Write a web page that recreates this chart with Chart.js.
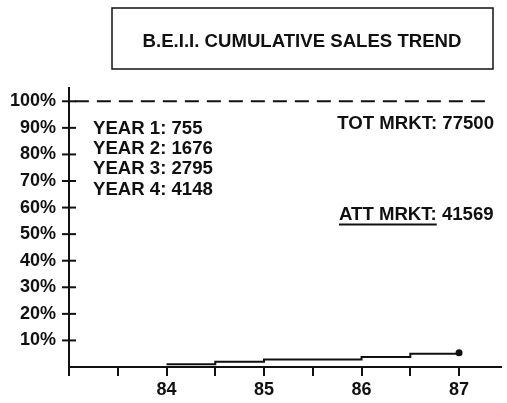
<!DOCTYPE html>
<html><head><meta charset="utf-8">
<script src="https://cdn.jsdelivr.net/npm/chart.js@4.4.1/dist/chart.umd.min.js"></script>
<style>html,body{margin:0;padding:0;background:#fff}#wrap{position:relative;width:507px;height:403px}</style>
</head><body><div id="wrap"><canvas id="c" width="507" height="403"></canvas></div>
<script>
const chartTitle = 'B.E.I.I. CUMULATIVE SALES TREND';
const periods = [84, 84.5, 85, 86, 86.5, 87];
const sharePct = [1.0, 2.0, 2.8, 3.8, 5.0, 5.4];
const refLineX = [83.06, 87.34];
const refLineY = [100, 100];
const yTickValues = [0, 10, 20, 30, 40, 50, 60, 70, 80, 90, 100];
const xTickValues = [83, 83.5, 84, 84.5, 85, 85.5, 86, 86.5, 87];
const xLabelYears = [84, 85, 86, 87];
const yearLabels = ['YEAR 1: 755', 'YEAR 2: 1676', 'YEAR 3: 2795', 'YEAR 4: 4148'];
const totLabel = 'TOT MRKT: 77500';
const attLabel = 'ATT MRKT:';
const attValue = '41569';

const FONT = '"Liberation Sans", Arial, Helvetica, sans-serif';
const INK = '#111';

const decor = {
  id: 'decor',
  afterDraw(chart) {
    const ctx = chart.ctx;
    const xs = chart.scales.x, ys = chart.scales.y;
    ctx.save();
    ctx.strokeStyle = INK; ctx.fillStyle = INK;
    // title box
    ctx.lineWidth = 1.5;
    ctx.strokeRect(112, 8, 381, 61);
    ctx.font = 'bold 18.6px ' + FONT;
    ctx.textAlign = 'center'; ctx.textBaseline = 'alphabetic';
    ctx.fillText(chartTitle, 302, 47);
    // y crosses
    ctx.lineWidth = 2;
    const x0 = xs.left;
    yTickValues.forEach(v => {
      if (v === 0) return;
      const y = ys.getPixelForValue(v);
      ctx.beginPath(); ctx.moveTo(x0 - 7, y); ctx.lineTo(x0 + 7, y); ctx.stroke();
    });
    // annotations
    ctx.font = 'bold 18.6px ' + FONT;
    ctx.textAlign = 'left';
    yearLabels.forEach((t, i) => ctx.fillText(t, 93, 133.5 + i * 20.4));
    ctx.textAlign = 'right';
    ctx.fillText(totLabel, 494, 128.5);
    ctx.textAlign = 'left';
    const attX = 339, attY = 219.5;
    ctx.fillText(attLabel, attX, attY);
    const w = ctx.measureText(attLabel).width;
    ctx.fillText(' ' + attValue, attX + w, attY);
    ctx.lineWidth = 1.8;
    ctx.beginPath(); ctx.moveTo(attX, attY + 5); ctx.lineTo(attX + w, attY + 5); ctx.stroke();
    ctx.restore();
  }
};

new Chart(document.getElementById('c'), {
  type: 'line',
  data: {
    datasets: [
      {
        data: periods.map((p, i) => ({ x: p, y: sharePct[i] })),
        borderColor: INK, borderWidth: 2, stepped: true,
        pointRadius: periods.map((p, i) => i === periods.length - 1 ? 2.5 : 0),
        pointBackgroundColor: INK, pointBorderColor: INK, fill: false
      },
      {
        data: refLineX.map((x, i) => ({ x: x, y: refLineY[i] })),
        borderColor: INK, borderWidth: 2, borderDash: [14, 8],
        pointRadius: 0, fill: false
      }
    ]
  },
  options: {
    responsive: false, animation: false, devicePixelRatio: 1,
    layout: { padding: { top: 88, right: 2, left: 0, bottom: 0 } },
    plugins: { legend: { display: false }, tooltip: { enabled: false }, title: { display: false } },
    scales: {
      x: {
        type: 'linear', min: 83, max: 87.43,
        afterBuildTicks: s => { s.ticks = xTickValues.map(v => ({ value: v })); },
        afterFit: s => { s.height = 36; },
        ticks: {
          autoSkip: false, maxRotation: 0, padding: 3,
          color: INK, font: { family: FONT, size: 18, weight: 'bold' },
          callback: v => xLabelYears.includes(v) ? String(v) : ''
        },
        grid: { display: true, drawOnChartArea: false, drawTicks: true, tickLength: 9, color: INK, lineWidth: 2 },
        border: { display: true, color: INK, width: 2 }
      },
      y: {
        min: 0, max: 105,
        afterBuildTicks: s => { s.ticks = yTickValues.map(v => ({ value: v })); },
        afterFit: s => { s.width = 69; },
        ticks: {
          padding: 13, color: INK, font: { family: FONT, size: 18, weight: 'bold' },
          callback: v => v === 0 ? '' : v + '%'
        },
        grid: { display: false, drawTicks: false },
        border: { display: true, color: INK, width: 2 }
      }
    }
  },
  plugins: [decor]
});
</script></body></html>
